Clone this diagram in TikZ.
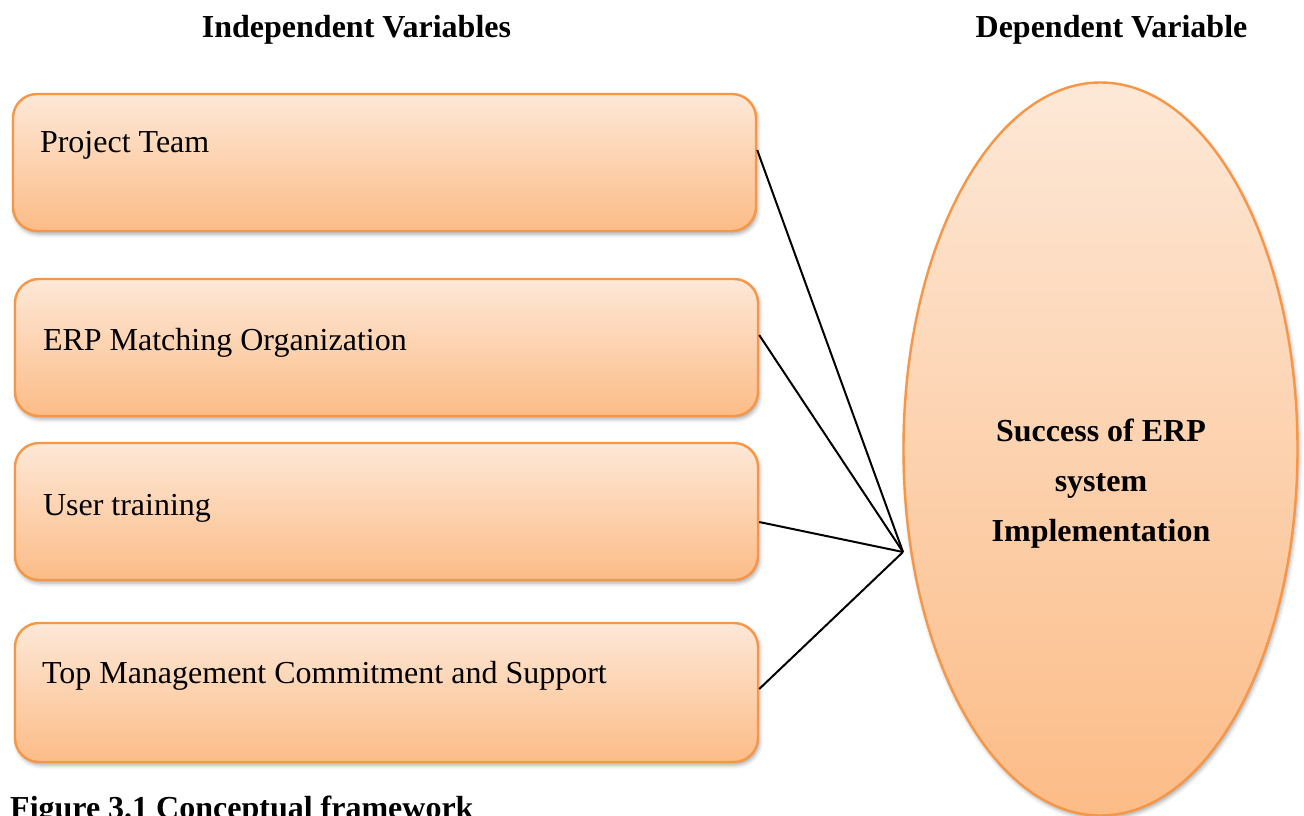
\documentclass[tikz,border=0pt]{standalone}
\usepackage{fontspec}
\setmainfont{Liberation Serif}
\usetikzlibrary{shapes.geometric,shadows,shadows.blur,calc}

\definecolor{accentorange}{RGB}{247,150,70}
\definecolor{fillhigh}{RGB}{253,232,215}
\definecolor{filllow}{RGB}{252,188,135}

\tikzset{
  big/.style={font=\fontsize{32}{38}\selectfont},
  bigbold/.style={font=\fontsize{32}{38}\selectfont\bfseries},
  softshadow/.style={blur shadow={shadow xshift=1.5pt, shadow yshift=-3pt,
      shadow blur radius=4pt, shadow opacity=35}},
  varbox/.style={rectangle, rounded corners=24pt, draw=accentorange,
      line width=2.4pt, top color=fillhigh, bottom color=filllow,
      minimum width=743pt, minimum height=137pt, inner sep=0pt, softshadow},
  outcome/.style={ellipse, draw=accentorange, line width=2.4pt,
      top color=fillhigh, bottom color=filllow,
      minimum width=394pt, minimum height=733pt, inner sep=0pt, softshadow},
  boxtext/.style={big, anchor=base west, inner sep=0pt},
  link/.style={draw=black, line width=2pt},
}

\begin{document}
\begin{tikzpicture}[x=1pt, y=-1pt]
  \useasboundingbox (0,0) rectangle (1304,816);

  % column headings
  \node[bigbold, anchor=base, inner sep=0pt] (hind) at (356.5,38) {Independent Variables};
  \node[bigbold, anchor=base, inner sep=0pt] (hdep) at (1111.5,38) {Dependent Variable};

  % independent variables
  \node[varbox] (b1) at (384.5,162.5) {};
  \node[varbox] (b2) at (386.5,347.5) {};
  \node[varbox] (b3) at (386.5,511.5) {};
  \node[varbox, minimum height=139pt] (b4) at (386.5,692.5) {};

  \node[boxtext] (t1) at ($(b1.north west)+(28,60)$) {Project Team};
  \node[boxtext] (t2) at ($(b2.north west)+(29,73)$) {ERP Matching Organization};
  \node[boxtext] (t3) at ($(b3.north west)+(29,74)$) {User training};
  \node[boxtext] (t4) at ($(b4.north west)+(28,62)$) {Top Management Commitment and Support};

  % dependent variable
  \node[outcome] (dv) at (1100.5,449) {};
  \node[bigbold, anchor=base, inner sep=0pt] (d1) at (1101,441) {Success of ERP};
  \node[bigbold, anchor=base, inner sep=0pt] (d2) at (1101,491) {system};
  \node[bigbold, anchor=base, inner sep=0pt] (d3) at (1101,541) {Implementation};

  % connectors meeting at the left side of the ellipse
  \coordinate (hub) at (903,552);
  \draw[link] ([yshift=12.5pt]b1.east) -- (hub);
  \draw[link] ([yshift=12.5pt]b2.east) -- (hub);
  \draw[link] ([yshift=-10.5pt]b3.east) -- (hub);
  \draw[link] ([yshift=3.5pt]b4.east) -- (hub);

  % caption
  \node[bigbold, anchor=base west, inner sep=0pt] (cap) at (10,818) {Figure 3.1 Conceptual framework};
\end{tikzpicture}
\end{document}
